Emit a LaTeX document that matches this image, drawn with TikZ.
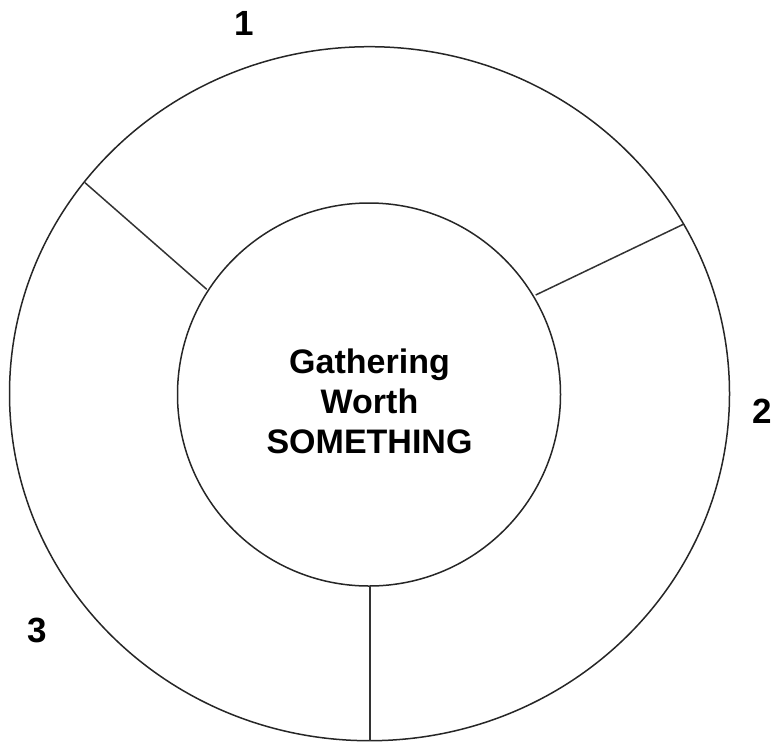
\documentclass[tikz,border=0pt]{standalone}
\usepackage{fontspec}
\setmainfont{Liberation Sans}
\usetikzlibrary{shapes.geometric}
\tikzset{
  ring/.style={draw=black!85, line width=1.5pt, inner sep=0pt, outer sep=0pt},
  divider/.style={draw=black!80, line width=1.5pt},
  numlabel/.style={font=\fontsize{35}{40}\selectfont\bfseries, anchor=base, inner sep=0pt},
  title/.style={font=\fontsize{34}{40}\selectfont\bfseries, align=center, anchor=base, inner sep=0pt}
}
\begin{document}
\begin{tikzpicture}[x=1pt,y=-1pt]
\useasboundingbox (0,0) rectangle (775,742);
\node[ring, ellipse, minimum width=720pt, minimum height=694pt] (outer) at (369.5,393.7) {};
\node[ring, circle, minimum size=383pt] (inner) at (369,394.5) {};
\coordinate (d1o) at (85,182.7);
\coordinate (d1i) at (206.7,289.3);
\coordinate (d2o) at (683.3,224.3);
\coordinate (d2i) at (535.7,295);
\coordinate (d3i) at (370,586);
\coordinate (d3o) at (370,741);
\draw[divider] (d1o) -- (d1i);
\draw[divider] (d2i) -- (d2o);
\draw[divider] (d3i) -- (d3o);
\node[title] (txt) at (369.5,453) {Gathering\\Worth\\SOMETHING};
\node[numlabel] (n1) at (244.5,35) {1};
\node[numlabel] (n2) at (762.5,423) {2};
\node[numlabel] (n3) at (37,642) {3};
\end{tikzpicture}
\end{document}
